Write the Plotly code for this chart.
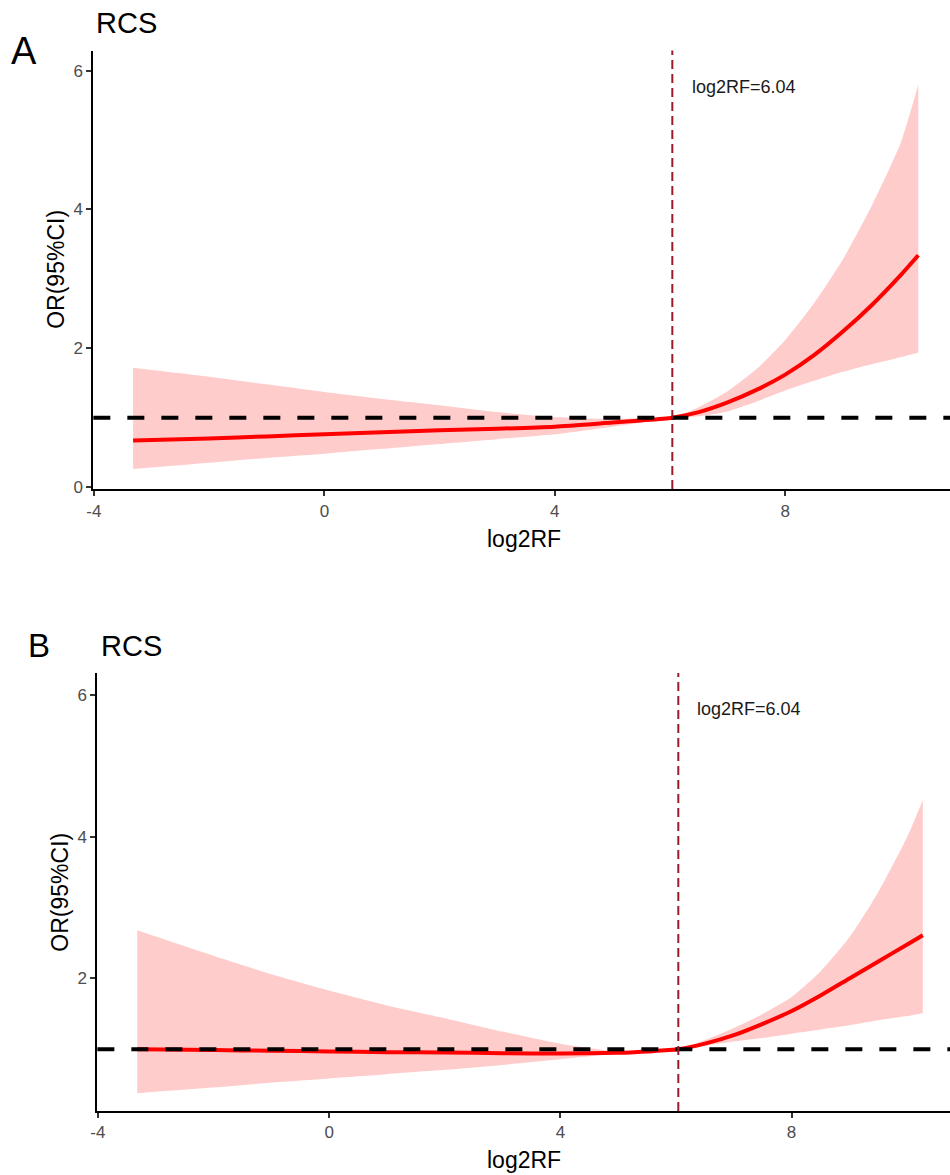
import plotly.graph_objects as go

# Restricted cubic spline fits: OR with 95% CI across log2RF, two models
KNOT = 6.04          # reference point (OR = 1)
REF_OR = 1.0

a_x = [-3.32, -2, -1, 0, 1, 2, 3, 4, 5, 5.5, 6.04, 6.5, 7.0, 7.5, 8.0, 8.5, 9.0, 9.5, 10.0, 10.31]
a_or = [0.67, 0.70, 0.73, 0.76, 0.79, 0.82, 0.84, 0.87, 0.93, 0.96, 1.0, 1.08, 1.22, 1.40, 1.62, 1.90, 2.24, 2.62, 3.05, 3.34]
a_upper = [1.72, 1.59, 1.48, 1.37, 1.27, 1.18, 1.08, 1.01, 0.98, 0.99, 1.0, 1.15, 1.38, 1.70, 2.12, 2.65, 3.28, 4.05, 4.95, 5.80]
a_lower = [0.26, 0.35, 0.42, 0.48, 0.55, 0.62, 0.69, 0.76, 0.87, 0.93, 1.0, 1.02, 1.09, 1.23, 1.39, 1.53, 1.66, 1.77, 1.87, 1.94]

b_x = [-3.32, -2, -1, 0, 1, 2, 3, 4, 5, 5.5, 6.04, 6.5, 7.0, 7.5, 8.0, 8.5, 9.0, 9.5, 10.0, 10.27]
b_or = [1.0, 0.99, 0.98, 0.97, 0.96, 0.955, 0.945, 0.94, 0.95, 0.97, 1.0, 1.08, 1.20, 1.36, 1.54, 1.76, 2.0, 2.24, 2.48, 2.61]
b_upper = [2.68, 2.32, 2.06, 1.83, 1.62, 1.44, 1.25, 1.08, 0.97, 0.98, 1.0, 1.13, 1.30, 1.50, 1.74, 2.10, 2.58, 3.22, 4.0, 4.52]
b_lower = [0.38, 0.46, 0.53, 0.59, 0.65, 0.71, 0.78, 0.86, 0.94, 0.97, 1.0, 1.05, 1.11, 1.16, 1.22, 1.28, 1.34, 1.41, 1.47, 1.51]

x_ticks = [-4, 0, 4, 8]
panels = [
    dict(tag="A", x=a_x, y=a_or, lo=a_lower, hi=a_upper, xa="x", ya="y", yticks=[0, 2, 4, 6]),
    dict(tag="B", x=b_x, y=b_or, lo=b_lower, hi=b_upper, xa="x2", ya="y2", yticks=[2, 4, 6]),
]

FONT = "Liberation Sans, Arial, sans-serif"
W, H = 950, 1175
RIBBON = "rgba(255,0,0,0.2)"
CURVE = "#FF0000"
VLINE = "#9A1B2C"

fig = go.Figure()
for p in panels:
    fig.add_trace(go.Scatter(x=p["x"], y=p["lo"], mode="lines", line=dict(width=0, shape="spline", smoothing=0.6),
                             xaxis=p["xa"], yaxis=p["ya"], showlegend=False, hoverinfo="skip"))
    fig.add_trace(go.Scatter(x=p["x"], y=p["hi"], mode="lines", line=dict(width=0, shape="spline", smoothing=0.6),
                             fill="tonexty", fillcolor=RIBBON,
                             xaxis=p["xa"], yaxis=p["ya"], showlegend=False, hoverinfo="skip"))
    fig.add_trace(go.Scatter(x=p["x"], y=p["y"], mode="lines",
                             line=dict(color=CURVE, width=4, shape="spline", smoothing=0.6),
                             xaxis=p["xa"], yaxis=p["ya"], showlegend=False))

axis_common = dict(showgrid=False, zeroline=False, showline=True, linecolor="black", linewidth=2,
                   ticks="outside", ticklen=5, tickwidth=1.5, tickcolor="#333333",
                   tickfont=dict(family=FONT, size=17, color="#4D4D4D"))


def px(v):
    # page x position -> paper fraction (accounts for page offset/scale)
    return ((v - 7.8) / 0.991) / W


def py(v):
    return 1 - (v / 0.995) / H


fig.update_layout(
    width=W, height=H, margin=dict(l=0, r=0, t=0, b=0),
    plot_bgcolor="white", paper_bgcolor="white",
    xaxis=dict(domain=[px(94), 1.0], range=[-4.01, 10.86], tickvals=x_ticks,
               ticktext=[str(v) for v in x_ticks], anchor="y", **axis_common),
    yaxis=dict(domain=[py(490), py(50.7)], range=[-0.03, 6.29], tickvals=panels[0]["yticks"],
               ticktext=[str(v) for v in panels[0]["yticks"]], anchor="x", **axis_common),
    xaxis2=dict(domain=[px(98), 1.0], range=[-4.01, 10.74], tickvals=x_ticks,
                ticktext=[str(v) for v in x_ticks], anchor="y2", **axis_common),
    yaxis2=dict(domain=[py(1113), py(674.3)], range=[0.13, 6.31], tickvals=panels[1]["yticks"],
                ticktext=[str(v) for v in panels[1]["yticks"]], anchor="x2", **axis_common),
)

shapes = []
annotations = []
layout_pos = {
    "A": dict(letter=(25, 51, 38), title=(95, 23), ytitle=(56, 270), xtitle=(524, 540), label_xy=(7.285, 5.77)),
    "B": dict(letter=(40, 647, 33), title=(100, 647), ytitle=(61, 894), xtitle=(524, 1162), label_xy=(7.27, 5.80)),
}
for p in panels:
    pos = layout_pos[p["tag"]]
    xa, ya = p["xa"], p["ya"]
    # reference OR = 1 and the knot position
    shapes.append(dict(type="line", xref=f"{xa} domain", yref=ya, x0=0, x1=1, y0=REF_OR, y1=REF_OR,
                       line=dict(color="black", width=4, dash="17px,17px"), layer="above"))
    shapes.append(dict(type="line", xref=xa, yref=f"{ya} domain", x0=KNOT, x1=KNOT, y0=0, y1=1,
                       line=dict(color=VLINE, width=2, dash="9px,5px"), layer="above"))
    annotations.append(dict(xref=xa, yref=ya, x=pos["label_xy"][0], y=pos["label_xy"][1],
                            text=f"log2RF={KNOT:.2f}", showarrow=False,
                            font=dict(family=FONT, size=18, color="#1A1A1A")))
    lx, ly, ls = pos["letter"]
    annotations.append(dict(xref="paper", yref="paper", x=px(lx), y=py(ly), text=p["tag"], showarrow=False,
                            xanchor="center", yanchor="middle", font=dict(family=FONT, size=ls, color="black")))
    annotations.append(dict(xref="paper", yref="paper", x=px(pos["title"][0]), y=py(pos["title"][1]), text="RCS",
                            showarrow=False, xanchor="left", yanchor="middle",
                            font=dict(family=FONT, size=29, color="black")))
    annotations.append(dict(xref="paper", yref="paper", x=px(pos["ytitle"][0]), y=py(pos["ytitle"][1]),
                            text="OR(95%CI)", textangle=-90, showarrow=False, xanchor="center", yanchor="middle",
                            font=dict(family=FONT, size=23, color="black")))
    annotations.append(dict(xref="paper", yref="paper", x=px(pos["xtitle"][0]), y=py(pos["xtitle"][1]),
                            text="log2RF", showarrow=False, xanchor="center", yanchor="middle",
                            font=dict(family=FONT, size=23, color="black")))

fig.update_layout(shapes=shapes, annotations=annotations)
fig.write_html("out.html")
